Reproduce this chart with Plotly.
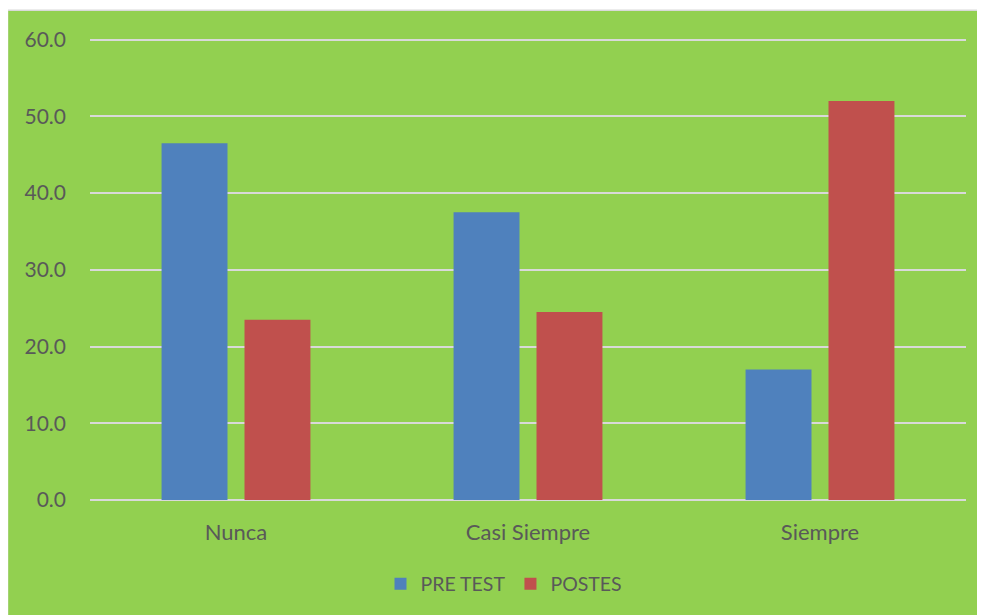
import plotly.graph_objects as go

categories = ["Nunca", "Casi Siempre", "Siempre"]
pre_test = [46.5, 37.5, 17.0]
postes = [23.5, 24.5, 52.0]
tick_vals = [0, 10, 20, 30, 40, 50, 60]
tick_text = ["0.0", "10.0", "20.0", "30.0", "40.0", "50.0", "60.0"]

FONT = "Lato, Carlito, Calibri, sans-serif"
GREEN = "#92D050"
TXT = "#595959"

fig = go.Figure()
fig.add_trace(go.Bar(name="PRE TEST", x=categories, y=pre_test, marker_color="#4F81BD", marker_line_width=0))
fig.add_trace(go.Bar(name="POSTES", x=categories, y=postes, marker_color="#C0504D", marker_line_width=0))

# page body has an 8px margin; figure coordinates = screen - 8
OFF = 8
W, H = 985, 615
YMAX = 61
unit = (500 - 40) / 60.0
top_screen = 500 - unit * YMAX
L, T = 90 - OFF, top_screen - OFF
R = W - (966 - OFF)
B = H - (500 - OFF)
pw, ph = W - L - R, H - T - B

def px_x(sx):
    return (sx - OFF - L) / pw

def px_y(sy):
    return (H - B - (sy - OFF)) / ph

fig.add_shape(type="rect", xref="paper", yref="paper",
              x0=px_x(7.5), x1=px_x(1100), y0=px_y(700), y1=px_y(10.5),
              fillcolor=GREEN, line=dict(color="#D9D9D9", width=1.5), layer="below")

fig.update_layout(
    width=W, height=H,
    margin=dict(l=L, r=R, t=T, b=B, pad=0),
    paper_bgcolor="white",
    plot_bgcolor="rgba(0,0,0,0)",
    barmode="group",
    bargap=0.432,
    bargroupgap=0.205,
    font=dict(family=FONT, size=21, color=TXT),
    showlegend=True,
    legend=dict(orientation="h", x=px_x(504), xanchor="center", y=px_y(584), yanchor="middle",
                bgcolor="rgba(0,0,0,0)", font=dict(size=19.5, color=TXT), traceorder="normal",
                itemwidth=30),
)
fig.update_yaxes(range=[0, YMAX], tickvals=tick_vals, ticktext=tick_text,
                 showgrid=True, gridcolor="#D9D9D9", gridwidth=1.6,
                 zeroline=True, zerolinecolor="#D9D9D9", zerolinewidth=1.6,
                 showline=False, ticklabelstandoff=23, tickfont=dict(size=21, color=TXT))
fig.update_xaxes(showgrid=False, showline=False, ticklabelstandoff=17,
                 tickfont=dict(size=22, color=TXT))

fig.write_html("out.html")
